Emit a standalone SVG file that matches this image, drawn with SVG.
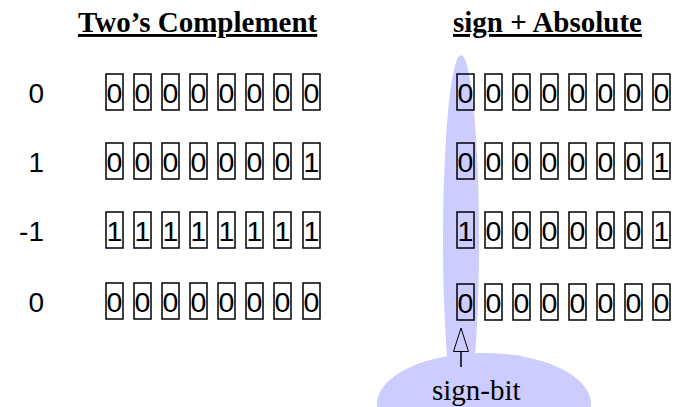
<svg xmlns="http://www.w3.org/2000/svg" width="677" height="407" viewBox="0 0 677 407">
<style>
.title{font-family:"Liberation Serif","Times New Roman",serif;font-weight:bold;font-size:29px;fill:#000;text-decoration:underline}
.lbl{font-family:"Liberation Sans",Arial,sans-serif;font-size:28px;fill:#000;text-anchor:end}
.bit rect{fill:none;stroke:#000;stroke-width:1.5}
.bit text{font-family:"Liberation Sans",Arial,sans-serif;font-size:28.5px;fill:#000;text-anchor:middle}
.hl{fill:#ccccff;stroke:none}
.note{font-family:"Liberation Serif","Times New Roman",serif;font-size:29px;fill:#000}
</style>
<g id="highlight">
<ellipse class="hl" cx="461" cy="240" rx="18" ry="185"/>
<ellipse class="hl" cx="484" cy="404" rx="107" ry="51"/>
</g>
<g id="title-twos"><text class="title" x="78" y="32">Two’s Complement</text></g>
<g id="title-sign"><text class="title" x="453" y="32">sign + Absolute</text></g>
<g id="labels">
<text class="lbl" x="44" y="103">0</text>
<text class="lbl" x="44" y="172">1</text>
<text class="lbl" x="44" y="241">-1</text>
<text class="lbl" x="44" y="312">0</text>
</g>
<g id="twos-row0" class="bit">
<rect x="106" y="74" width="17" height="36"/><rect x="134" y="74" width="17" height="36"/><rect x="162" y="74" width="17" height="36"/><rect x="190" y="74" width="17" height="36"/><rect x="218" y="74" width="17" height="36"/><rect x="246" y="74" width="17" height="36"/><rect x="274" y="74" width="17" height="36"/><rect x="303" y="74" width="17" height="36"/>
<text x="114.5" y="103">0</text><text x="142.5" y="103">0</text><text x="170.5" y="103">0</text><text x="198.5" y="103">0</text><text x="226.5" y="103">0</text><text x="254.5" y="103">0</text><text x="282.5" y="103">0</text><text x="311.5" y="103">0</text>
</g>
<g id="twos-row1" class="bit">
<rect x="106" y="143" width="17" height="36"/><rect x="134" y="143" width="17" height="36"/><rect x="162" y="143" width="17" height="36"/><rect x="190" y="143" width="17" height="36"/><rect x="218" y="143" width="17" height="36"/><rect x="246" y="143" width="17" height="36"/><rect x="274" y="143" width="17" height="36"/><rect x="303" y="143" width="17" height="36"/>
<text x="114.5" y="172">0</text><text x="142.5" y="172">0</text><text x="170.5" y="172">0</text><text x="198.5" y="172">0</text><text x="226.5" y="172">0</text><text x="254.5" y="172">0</text><text x="282.5" y="172">0</text><text x="311.5" y="172">1</text>
</g>
<g id="twos-row2" class="bit">
<rect x="106" y="212" width="17" height="36"/><rect x="134" y="212" width="17" height="36"/><rect x="162" y="212" width="17" height="36"/><rect x="190" y="212" width="17" height="36"/><rect x="218" y="212" width="17" height="36"/><rect x="246" y="212" width="17" height="36"/><rect x="274" y="212" width="17" height="36"/><rect x="303" y="212" width="17" height="36"/>
<text x="114.5" y="241">1</text><text x="142.5" y="241">1</text><text x="170.5" y="241">1</text><text x="198.5" y="241">1</text><text x="226.5" y="241">1</text><text x="254.5" y="241">1</text><text x="282.5" y="241">1</text><text x="311.5" y="241">1</text>
</g>
<g id="twos-row3" class="bit">
<rect x="106" y="283" width="17" height="36"/><rect x="134" y="283" width="17" height="36"/><rect x="162" y="283" width="17" height="36"/><rect x="190" y="283" width="17" height="36"/><rect x="218" y="283" width="17" height="36"/><rect x="246" y="283" width="17" height="36"/><rect x="274" y="283" width="17" height="36"/><rect x="303" y="283" width="17" height="36"/>
<text x="114.5" y="312">0</text><text x="142.5" y="312">0</text><text x="170.5" y="312">0</text><text x="198.5" y="312">0</text><text x="226.5" y="312">0</text><text x="254.5" y="312">0</text><text x="282.5" y="312">0</text><text x="311.5" y="312">0</text>
</g>
<g id="sign-row0" class="bit">
<rect x="457" y="74" width="17" height="36"/><rect x="485" y="74" width="17" height="36"/><rect x="513" y="74" width="17" height="36"/><rect x="541" y="74" width="17" height="36"/><rect x="569" y="74" width="17" height="36"/><rect x="597" y="74" width="17" height="36"/><rect x="625" y="74" width="17" height="36"/><rect x="653" y="74" width="17" height="36"/>
<text x="465.5" y="103">0</text><text x="493.5" y="103">0</text><text x="521.5" y="103">0</text><text x="549.5" y="103">0</text><text x="577.5" y="103">0</text><text x="605.5" y="103">0</text><text x="633.5" y="103">0</text><text x="661.5" y="103">0</text>
</g>
<g id="sign-row1" class="bit">
<rect x="457" y="143" width="17" height="36"/><rect x="485" y="143" width="17" height="36"/><rect x="513" y="143" width="17" height="36"/><rect x="541" y="143" width="17" height="36"/><rect x="569" y="143" width="17" height="36"/><rect x="597" y="143" width="17" height="36"/><rect x="625" y="143" width="17" height="36"/><rect x="653" y="143" width="17" height="36"/>
<text x="465.5" y="172">0</text><text x="493.5" y="172">0</text><text x="521.5" y="172">0</text><text x="549.5" y="172">0</text><text x="577.5" y="172">0</text><text x="605.5" y="172">0</text><text x="633.5" y="172">0</text><text x="661.5" y="172">1</text>
</g>
<g id="sign-row2" class="bit">
<rect x="457" y="212" width="17" height="36"/><rect x="485" y="212" width="17" height="36"/><rect x="513" y="212" width="17" height="36"/><rect x="541" y="212" width="17" height="36"/><rect x="569" y="212" width="17" height="36"/><rect x="597" y="212" width="17" height="36"/><rect x="625" y="212" width="17" height="36"/><rect x="653" y="212" width="17" height="36"/>
<text x="465.5" y="241">1</text><text x="493.5" y="241">0</text><text x="521.5" y="241">0</text><text x="549.5" y="241">0</text><text x="577.5" y="241">0</text><text x="605.5" y="241">0</text><text x="633.5" y="241">0</text><text x="661.5" y="241">1</text>
</g>
<g id="sign-row3" class="bit">
<rect x="457" y="284" width="17" height="36"/><rect x="485" y="284" width="17" height="36"/><rect x="513" y="284" width="17" height="36"/><rect x="541" y="284" width="17" height="36"/><rect x="569" y="284" width="17" height="36"/><rect x="597" y="284" width="17" height="36"/><rect x="625" y="284" width="17" height="36"/><rect x="653" y="284" width="17" height="36"/>
<text x="465.5" y="313">0</text><text x="493.5" y="313">0</text><text x="521.5" y="313">0</text><text x="549.5" y="313">0</text><text x="577.5" y="313">0</text><text x="605.5" y="313">0</text><text x="633.5" y="313">0</text><text x="661.5" y="313">0</text>
</g>
<g id="connectors">
<line x1="461" y1="367" x2="461" y2="351" stroke="#000" stroke-width="1.5"/>
<polygon points="461,328 453.5,351.5 468.5,351.5" fill="none" stroke="#000" stroke-width="1"/>
</g>
<g id="sign-bit-label"><text class="note" x="432" y="400">sign-bit</text></g>
</svg>
